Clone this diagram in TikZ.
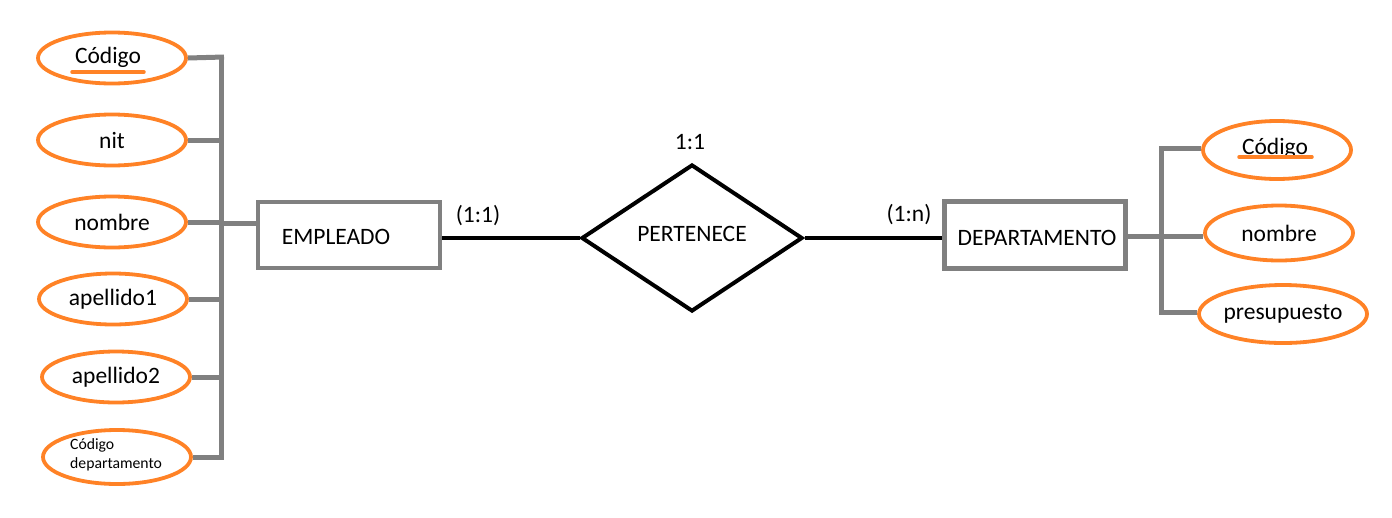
\documentclass[tikz,border=0pt]{standalone}
\usepackage{fontspec}
\setmainfont{Carlito}
\usetikzlibrary{shapes.geometric}
\definecolor{attor}{RGB}{255,130,38}
\definecolor{lgray}{RGB}{128,128,128}
\tikzset{
  bigfont/.style={font=\fontsize{23.5}{28}\selectfont},
  attr/.style={ellipse, draw=attor, line width=3.8pt, minimum width=148pt, minimum height=51pt, inner sep=0pt, bigfont},
  ent/.style={rectangle, draw=lgray, line width=4.5pt, inner sep=0pt, bigfont},
  rel/.style={diamond, draw=black, line width=4pt, inner sep=0pt, bigfont},
  gline/.style={draw=lgray, line width=5pt},
  bline/.style={draw=black, line width=4pt},
  lbl/.style={bigfont, inner sep=0pt},
  ul/.style={draw=attor, line width=3.5pt, line cap=round}
}
\begin{document}
\begin{tikzpicture}[x=1pt,y=-1pt]
\useasboundingbox (0,0) rectangle (1392,517);
% left attributes
\node[attr] (c1) at (112,58) {};
\node[lbl] (c1t) at (108,57) {Código};
\draw[ul] (72,72) -- (144,72);
\node[attr] (nit) at (112,140) {nit};
\node[attr] (nom) at (112,222) {nombre};
\node[attr] (ap1) at (113,299) {apellido1};
\node[attr] (ap2) at (116,377) {apellido2};
\node[attr, minimum height=54pt] (cd) at (117,457) {};
\node[font=\fontsize{15.7}{19}\selectfont, align=left, inner sep=0pt, anchor=west] (cdt) at (70,455) {Código\\departamento};
% spine
\coordinate (st) at (224,57);
\coordinate (sb) at (221,457);
\draw[gline] (221,54.5) -- (221,459.5);
\draw[gline] (c1.east) -- (st);
\draw[gline] (nit.east) -- (nit.east -| sb);
\draw[gline] (nom.east) -- (nom.east -| sb);
\draw[gline] (ap1.east) -- (ap1.east -| sb);
\draw[gline] (ap2.east) -- (ap2.east -| sb);
\draw[gline] (cd.east) -- (cd.east -| sb);
% entities
\node[ent, minimum width=182pt, minimum height=66pt] (emp) at (349,235) {};
\node[lbl] (empt) at (336,237) {EMPLEADO};
\coordinate (ej) at (221,223);
\draw[gline] (ej) -- (ej -| emp.west);
\node[rel, minimum width=221pt, minimum height=147pt, aspect=1.5] (per) at (692,238) {};
\node[lbl] (pert) at (692,234) {PERTENECE};
\node[lbl] (r11) at (690,142) {1:1};
\node[ent, minimum width=181pt, minimum height=67pt] (dep) at (1035,235) {};
\node[lbl] (dept) at (1037,238) {DEPARTAMENTO};
\draw[bline] (emp.east |- per.west) -- (per.west);
\draw[bline] (per.east) -- (dep.west |- per.east);
\node[lbl] (l1) at (478,216) {(1:1)};
\node[lbl] (l2) at (909,215) {(1:n)};
% right attributes
\node[attr, minimum height=58pt] (c2) at (1277,150) {};
\node[lbl] (c2t) at (1275,148) {Código};
\draw[ul] (1239,157) -- (1312,157);
\node[attr, minimum height=55pt] (nom2) at (1279,233) {nombre};
\node[attr, minimum height=58pt] (pre) at (1283,314) {presupuesto};
\coordinate (rs) at (1161,236);
\draw[gline] (dep.east |- rs) -- (rs);
\draw[gline] (c2.west |- 0,148) -- (1161,148) -- (1161,312) -- (pre.west |- 0,312);
\draw[gline] (rs) -- (nom2.west |- rs);
\end{tikzpicture}
\end{document}
